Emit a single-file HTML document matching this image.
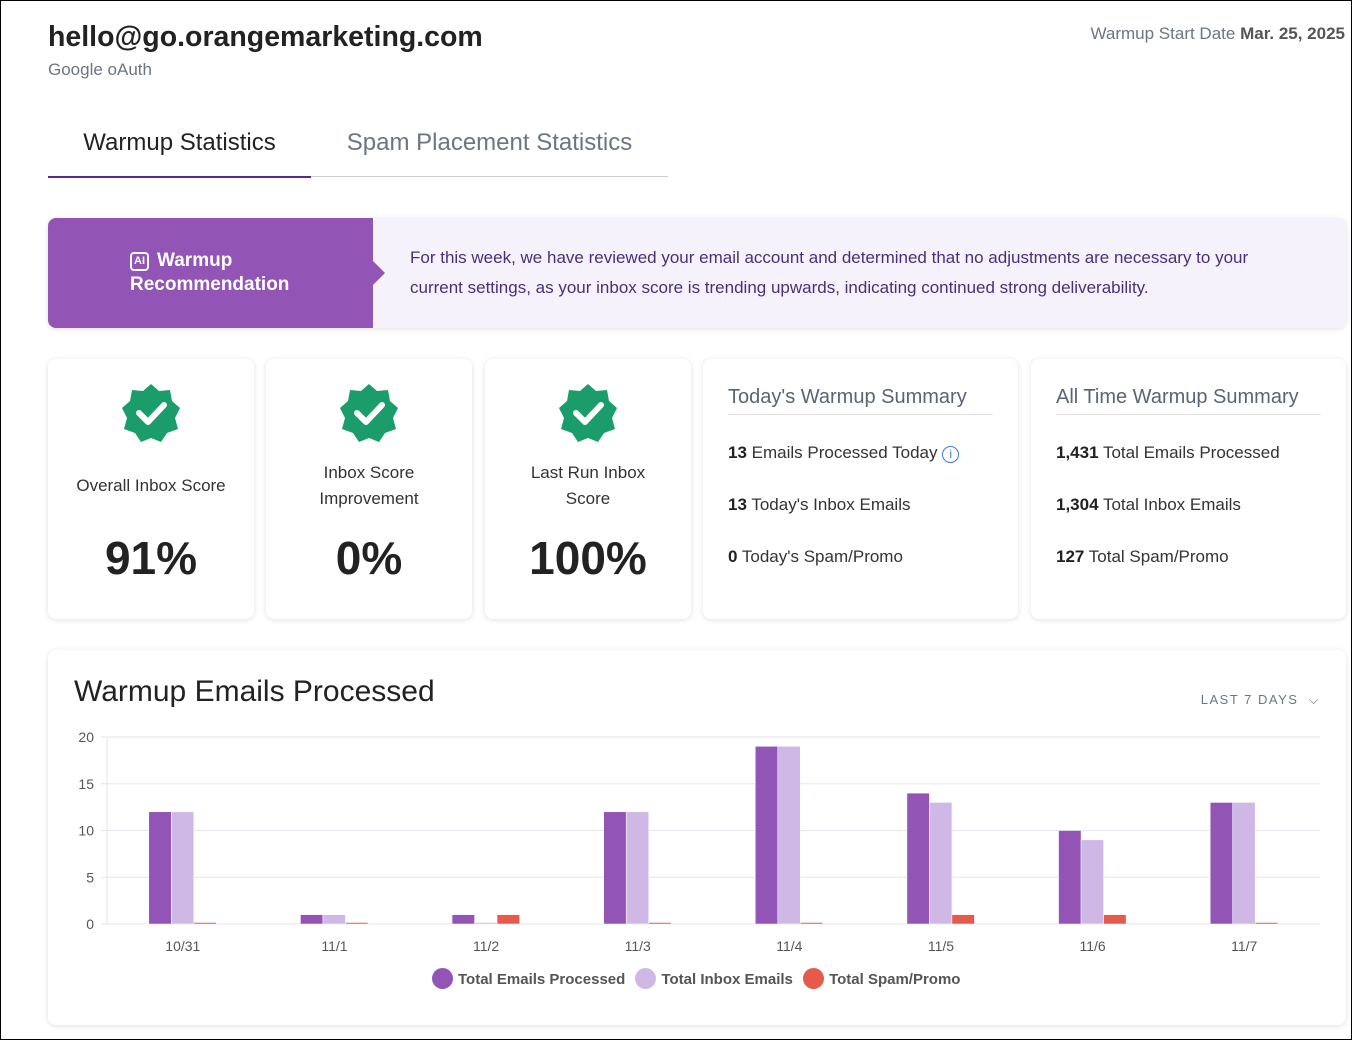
<!DOCTYPE html>
<html><head><meta charset="utf-8">
<style>
*{box-sizing:border-box;margin:0;padding:0}
body{width:1352px;height:1040px;overflow:hidden;background:#fff;font-family:"Liberation Sans",sans-serif;color:#222;position:relative;border:1px solid #000}
.abs{position:absolute}
.card{position:absolute;background:#fff;border-radius:8px;box-shadow:0 1px 6px rgba(0,0,0,0.12)}
.score{text-align:center}
.badge{position:absolute;left:50%;top:24px;margin-left:-30px}
.lbl{position:absolute;left:0;right:0;font-size:17px;color:#333;line-height:26px}
.big{position:absolute;left:0;right:0;top:172px;font-size:46px;font-weight:bold;color:#222}
.sumt{position:absolute;left:25px;right:25px;top:27px;font-size:20px;color:#5a6475;padding-bottom:5px;border-bottom:1px solid #e2e2e2}
.row{position:absolute;left:25px;font-size:17px;color:#333}
.row b{color:#222}
</style></head><body>
<div class="abs" style="left:47px;top:20px;font-size:28.5px;font-weight:bold;color:#222">hello@go.orangemarketing.com</div>
<div class="abs" style="left:47px;top:59px;font-size:17px;color:#6b7585">Google oAuth</div>
<div class="abs" style="right:6px;top:23px;font-size:17px;color:#6b7585">Warmup Start Date <b style="color:#555">Mar. 25, 2025</b></div>

<div class="abs" style="left:47px;top:175px;width:620px;height:1px;background:#ccc"></div>
<div class="abs" style="left:47px;top:128px;width:263px;height:49px;text-align:center;font-size:24px;color:#222;border-bottom:2px solid #5b2a86">Warmup Statistics</div>
<div class="abs" style="left:310px;top:128px;width:357px;text-align:center;font-size:24px;color:#6b7585">Spam Placement Statistics</div>

<div class="card" style="left:47px;top:217px;width:1298px;height:110px;background:#f6f2fc;overflow:visible">
<div class="abs" style="left:0;top:0;width:325px;height:110px;background:#9254b5;border-radius:8px 0 0 8px;color:#fff;font-size:19px;font-weight:bold">
<div class="abs" style="left:82px;top:31px;line-height:24px"><span style="display:inline-block;border:2px solid #fff;border-radius:4px;font-size:11px;padding:0 2px;line-height:15px;vertical-align:2px;margin-right:8px">AI</span>Warmup<br>Recommendation</div>
<div class="abs" style="right:-12px;top:43px;width:0;height:0;border-top:12px solid transparent;border-bottom:12px solid transparent;border-left:12px solid #9254b5"></div>
</div>
<div class="abs" style="left:362px;top:25px;width:880px;font-size:17px;line-height:30px;color:#4a2f78">For this week, we have reviewed your email account and determined that no adjustments are necessary to your current settings, as your inbox score is trending upwards, indicating continued strong deliverability.</div>
</div>

<div class="card score" style="left:47px;top:358px;width:206px;height:260px">
<svg class="badge" width="60" height="60" viewBox="0 0 60 60"><polygon points="30,1 38,8 49,7 51,18 59,25 54,35 57,46 46,50 40,59 30,55 20,59 14,50 3,46 6,35 1,25 9,18 11,7 22,8" fill="#1b9d6b"/><path d="M18 30 L27 39 L43 22" stroke="#fff" stroke-width="6" fill="none" stroke-linecap="round" stroke-linejoin="round"/></svg>
<div class="lbl" style="top:114px">Overall Inbox Score</div><div class="big">91%</div></div>
<div class="card score" style="left:265px;top:358px;width:206px;height:260px">
<svg class="badge" width="60" height="60" viewBox="0 0 60 60"><polygon points="30,1 38,8 49,7 51,18 59,25 54,35 57,46 46,50 40,59 30,55 20,59 14,50 3,46 6,35 1,25 9,18 11,7 22,8" fill="#1b9d6b"/><path d="M18 30 L27 39 L43 22" stroke="#fff" stroke-width="6" fill="none" stroke-linecap="round" stroke-linejoin="round"/></svg>
<div class="lbl" style="top:101px">Inbox Score<br>Improvement</div><div class="big">0%</div></div>
<div class="card score" style="left:484px;top:358px;width:206px;height:260px">
<svg class="badge" width="60" height="60" viewBox="0 0 60 60"><polygon points="30,1 38,8 49,7 51,18 59,25 54,35 57,46 46,50 40,59 30,55 20,59 14,50 3,46 6,35 1,25 9,18 11,7 22,8" fill="#1b9d6b"/><path d="M18 30 L27 39 L43 22" stroke="#fff" stroke-width="6" fill="none" stroke-linecap="round" stroke-linejoin="round"/></svg>
<div class="lbl" style="top:101px">Last Run Inbox<br>Score</div><div class="big">100%</div></div>

<div class="card" style="left:702px;top:358px;width:315px;height:260px">
<div class="sumt">Today's Warmup Summary</div>
<div class="row" style="top:84px"><b>13</b> Emails Processed Today <span style="display:inline-block;width:17px;height:17px;border:1.5px solid #3a7bd5;border-radius:50%;color:#3a7bd5;font-size:12px;text-align:center;line-height:14px">i</span></div>
<div class="row" style="top:136px"><b>13</b> Today's Inbox Emails</div>
<div class="row" style="top:188px"><b>0</b> Today's Spam/Promo</div>
</div>
<div class="card" style="left:1030px;top:358px;width:315px;height:260px">
<div class="sumt">All Time Warmup Summary</div>
<div class="row" style="top:84px"><b>1,431</b> Total Emails Processed</div>
<div class="row" style="top:136px"><b>1,304</b> Total Inbox Emails</div>
<div class="row" style="top:188px"><b>127</b> Total Spam/Promo</div>
</div>

<div class="card" style="left:47px;top:649px;width:1298px;height:375px">
<div class="abs" style="left:26px;top:25px;font-size:30px;color:#222">Warmup Emails Processed</div>
<div class="abs" style="right:26px;top:42px;font-size:13px;letter-spacing:1.5px;color:#6b7585">LAST 7 DAYS &nbsp;⌵</div>
</div>
<svg class="abs" style="left:-1px;top:-1px" width="1352" height="1040" id="chart"></svg>
<div class="abs" style="left:431px;top:967px;font-size:15px;font-weight:bold;color:#555;white-space:nowrap">
<span><span style="display:inline-block;width:21px;height:21px;border-radius:50%;background:#9254b5;vertical-align:-5px;margin-right:5px"></span>Total Emails Processed</span>
<span style="margin-left:6px"><span style="display:inline-block;width:21px;height:21px;border-radius:50%;background:#cfb8e6;vertical-align:-5px;margin-right:5px"></span>Total Inbox Emails</span>
<span style="margin-left:6px"><span style="display:inline-block;width:21px;height:21px;border-radius:50%;background:#e55a4a;vertical-align:-5px;margin-right:5px"></span>Total Spam/Promo</span>
</div>
<script>
const categories=["10/31","11/1","11/2","11/3","11/4","11/5","11/6","11/7"];
const processed=[12,1,1,12,19,14,10,13];
const inbox=[12,1,0,12,19,13,9,13];
const spam=[0,0,1,0,0,1,1,0];
const yTicks=[0,5,10,15,20];
const svg=document.getElementById('chart');
const NS='http://www.w3.org/2000/svg';
const X0=107,X1=1320,Y0=924,Y1=737,YMAX=20;
const y=v=>Y0-(v/YMAX)*(Y0-Y1);
const band=(X1-X0)/categories.length;
const xc=i=>X0+band*(i+0.5);
function mk(t,a){const e=document.createElementNS(NS,t);for(const k in a)e.setAttribute(k,a[k]);svg.appendChild(e);return e;}
yTicks.forEach(t=>{
 const l=mk('line',{x1:X0-6,x2:X1,y1:y(t),y2:y(t),stroke:'#e3e6ea','stroke-width':1});
 
 
 const tx=mk('text',{x:X0-13,y:y(t)+5,'text-anchor':'end','font-size':14,fill:'#555','font-family':'Liberation Sans, sans-serif'});
 tx.textContent=t;
 
 
});
const ax=mk('line',{x1:X0,x2:X0,y1:Y1,y2:Y0,stroke:'#e3e6ea'});


const series=[[processed,'#9254b5'],[inbox,'#cfb8e6'],[spam,'#e55a4a']];
const bw=22.5;
categories.forEach((c,i)=>{
 series.forEach(([arr,col],s)=>{
  const v=arr[i];const top=v>0?y(v):Y0-1.5;
  const r=mk('rect',{x:xc(i)-34+s*bw,y:top,width:bw,height:Y0-top,fill:col,stroke:'#fff','stroke-width':0.5});
  
  
 });
 const tx=mk('text',{x:xc(i),y:951,'text-anchor':'middle','font-size':14,fill:'#555','font-family':'Liberation Sans, sans-serif'});
 tx.textContent=c;
 
 
});
</script>
</body></html>
